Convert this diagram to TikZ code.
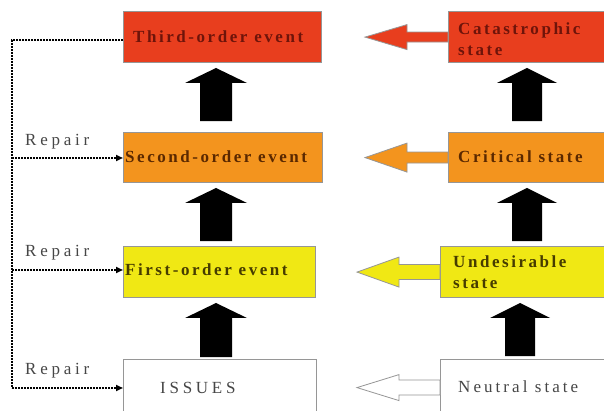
\documentclass[tikz,border=0pt]{standalone}
\usepackage{fontspec}
\setmainfont{Liberation Serif}
\newfontfamily\spc[LetterSpace=15]{Liberation Serif}
\newfontfamily\spcw[LetterSpace=22]{Liberation Serif}
\newfontfamily\spcm[LetterSpace=18]{Liberation Serif}
\usetikzlibrary{arrows.meta,calc}
\definecolor{cred}{RGB}{232,62,30}
\definecolor{corange}{RGB}{243,148,30}
\definecolor{cyellow}{RGB}{240,232,20}
\definecolor{tred}{RGB}{110,20,10}
\definecolor{torange}{RGB}{90,40,0}
\definecolor{tyellow}{RGB}{70,60,0}
\definecolor{tgray}{RGB}{70,70,70}
\definecolor{bgray}{RGB}{150,150,150}
\newcommand\upblk[7]{% lower, upper, cx, botgap, topgap, shafthalf, headhalf
  \fill[black] let \p1=(#1.north), \p2=(#2.south) in
    (#3pt-#6pt,\y1+#4pt) -- (#3pt+#6pt,\y1+#4pt) -- (#3pt+#6pt,\y2-#5pt-15pt)
    -- (#3pt+#7pt,\y2-#5pt-15pt) -- (#3pt,\y2-#5pt) -- (#3pt-#7pt,\y2-#5pt-15pt)
    -- (#3pt-#6pt,\y2-#5pt-15pt) -- cycle;}
\newcommand\leftblk[4]{% node, headhalf, shafthalf, style
  \path[#4] ($(#1.west)+(0,#3)$) -- ($(#1.west)+(-41,#3)$) -- ($(#1.west)+(-41,#2)$)
    -- ($(#1.west)+(-83,0)$) -- ($(#1.west)+(-41,-#2)$) -- ($(#1.west)+(-41,-#3)$)
    -- ($(#1.west)+(0,-#3)$) -- cycle;}
\tikzset{
  box/.style={draw=bgray, line width=0.8pt, inner sep=0pt, anchor=south west},
  txt/.style={inner sep=0pt, anchor=west, font=\fontsize{17}{21}\selectfont\spc\bfseries, align=left},
  gtxt/.style={inner sep=0pt, anchor=west, font=\fontsize{17}{21}\selectfont\spcw, text=tgray},
  rep/.style={line width=1.7pt, dash pattern=on 1.8pt off 1.2pt},
  repa/.style={rep, -{Triangle[length=7pt,width=6pt]}},
  blk/.style={draw=bgray, line width=0.8pt},
}
\begin{document}
\begin{tikzpicture}[x=1pt,y=1pt]
\useasboundingbox (0,0) rectangle (604,411);
\fill[white] (0,0) rectangle (604,411);
% left boxes
\node[box, fill=cred, minimum width=198pt, minimum height=51pt] (t3) at (123,348) {};
\node[box, fill=corange, minimum width=199pt, minimum height=50pt] (t2) at (123,228) {};
\node[box, fill=cyellow, minimum width=192pt, minimum height=51pt] (t1) at (123,113) {};
\node[box, fill=white, minimum width=193pt, minimum height=56pt] (t0) at (123,-5) {};
% right boxes
\node[box, fill=cred, minimum width=170pt, minimum height=51pt] (s3) at (448,348) {};
\node[box, fill=corange, minimum width=170pt, minimum height=50pt] (s2) at (448,228) {};
\node[box, fill=cyellow, minimum width=178pt, minimum height=51pt] (s1) at (440,113) {};
\node[box, fill=white, minimum width=178pt, minimum height=56pt] (s0) at (440,-5) {};
% texts
\node[txt, text=tred] (l3) at (133,374) {Third-order event};
\node[txt, text=torange] (l2) at (125,254) {Second-order event};
\node[txt, text=tyellow] (l1) at (125,141) {First-order event};
\node[gtxt] (l0) at (160,23) {ISSUES};
\node[txt, text=tred] (r3) at (458,372) {Catastrophic\\state};
\node[txt, text=torange] (r2) at (458,254) {Critical state};
\node[txt, text=tyellow] (r1) at (453,139) {Undesirable\\state};
\node[gtxt, font=\fontsize{17}{21}\selectfont\spcm] (r0) at (458,24) {Neutral state};
% repair labels
\node[gtxt] (p2) at (25,269) {Repair};
\node[gtxt] (p1) at (25,158) {Repair};
\node[gtxt] (p0) at (25,40) {Repair};
% up arrows
\upblk{t0}{t1}{216}{2}{5}{16}{31}
\upblk{t1}{t2}{216}{5}{5}{16}{31}
\upblk{t2}{t3}{216}{11}{5}{16}{31}
\upblk{s0}{s1}{520}{3}{5}{15}{30}
\upblk{s1}{s2}{527}{5}{5}{15}{30}
\upblk{s2}{s3}{527}{11}{5}{15}{30}
% left arrows
\leftblk{s3}{12.5}{5}{blk, fill=cred}
\leftblk{s2}{14.5}{5.5}{blk, fill=corange}
\leftblk{s1}{15}{7.5}{blk, fill=cyellow}
\leftblk{s0}{13}{7.5}{blk, fill=white}
% repair lines
\coordinate (c3) at (12,371);
\coordinate (c2) at (12,253);
\coordinate (c1) at (12,141);
\coordinate (c0) at (12,23);
\draw[rep] (c3 -| t3.west) -- (c3) -- (c0);
\draw[repa] (c2) -- (c2 -| t2.west);
\draw[repa] (c1) -- (c1 -| t1.west);
\draw[repa] (c0) -- (c0 -| t0.west);
\end{tikzpicture}
\end{document}
